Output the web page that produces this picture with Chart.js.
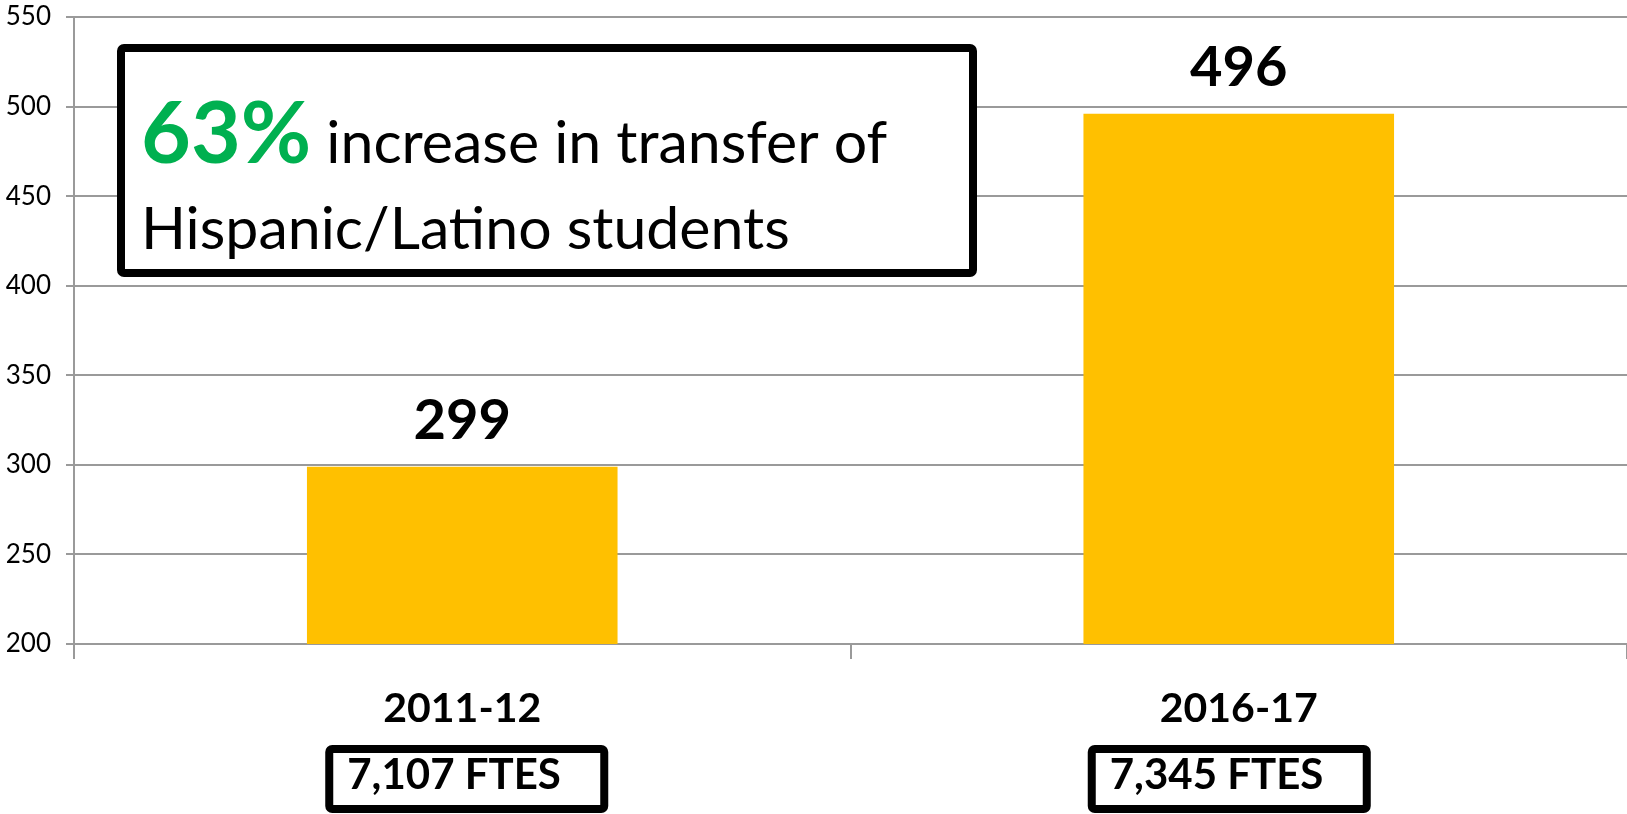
<!DOCTYPE html>
<html>
<head>
<meta charset="utf-8">
<script src="https://cdn.jsdelivr.net/npm/chart.js@4.4.1/dist/chart.umd.min.js"></script>
<style>
html, body { margin: 0; padding: 0; background: #fff; }
</style>
</head>
<body>
<canvas id="grafico-transferencia" width="1627" height="814"></canvas>
<script>
// dados
const anos = ['2011-12', '2016-17'];
const transferencias = [299, 496];
const ftes = ['7,107 FTES', '7,345 FTES'];
const destaque = '63%';
const linhasTexto = ['increase in transfer of', 'Hispanic/Latino students'];
const eixoY = { min: 200, max: 550, passo: 50 };

const fonte = 'Lato, "Open Sans", sans-serif';
const cinza = '#9a9a9a';

// valores acima das barras
const rotulosBarras = {
    id: 'rotulosBarras',
    afterDatasetsDraw(chart) {
        let ctx = chart.ctx;
        let meta = chart.getDatasetMeta(0);
        ctx.save();
        ctx.fillStyle = '#000';
        ctx.font = 'bold 56px ' + fonte;
        ctx.textAlign = 'center';
        ctx.textBaseline = 'alphabetic';
        meta.data.forEach(function (barra, i) {
            ctx.fillText(String(transferencias[i]), barra.x, barra.y - 28);
        });
        ctx.restore();
    }
};

// caixas com FTES debaixo dos anos
const caixasFtes = {
    id: 'caixasFtes',
    afterDraw(chart, args, opts) {
        let ctx = chart.ctx;
        let x = chart.scales.x;
        ctx.save();
        ctx.font = 'bold 42px ' + fonte;
        ftes.forEach(function (txt, i) {
            let cx = x.getPixelForValue(i);
            let esq = cx + opts.desloc[i];
            ctx.lineWidth = 8;
            ctx.strokeStyle = '#000';
            ctx.beginPath();
            ctx.roundRect(esq + 4, 749, 275, 60, 3);
            ctx.stroke();
            ctx.fillStyle = '#000';
            ctx.textAlign = 'left';
            ctx.textBaseline = 'alphabetic';
            ctx.fillText(txt, esq + 22, 789);
        });
        ctx.restore();
    }
};

// caixa de destaque
const caixaDestaque = {
    id: 'caixaDestaque',
    afterDraw(chart) {
        let ctx = chart.ctx;
        ctx.save();
        ctx.fillStyle = '#fff';
        ctx.fillRect(121, 48, 850, 225);
        ctx.lineWidth = 8;
        ctx.strokeStyle = '#000';
        ctx.beginPath();
        ctx.roundRect(121, 48, 852, 225, 3);
        ctx.stroke();

        ctx.textAlign = 'left';
        ctx.textBaseline = 'alphabetic';
        ctx.font = 'bold 86px ' + fonte;
        ctx.fillStyle = '#00B050';
        ctx.fillText(destaque, 141, 163);
        let w = ctx.measureText(destaque).width;

        ctx.font = '59px ' + fonte;
        ctx.fillStyle = '#000';
        let esp = ctx.measureText(' ').width;
        ctx.fillText(linhasTexto[0], 141 + w + esp, 163);
        ctx.fillText(linhasTexto[1], 141, 249);
        ctx.restore();
    }
};

let context = document.getElementById('grafico-transferencia').getContext('2d');

let grafico = new Chart(context, {
    type: 'bar',
    data: {
        labels: anos,
        datasets: [{
            label: 'Transfer',
            data: transferencias,
            backgroundColor: '#FFC000',
            borderWidth: 0,
            barPercentage: 0.4,
            categoryPercentage: 1
        }]
    },
    options: {
        responsive: false,
        animation: false,
        layout: { padding: { top: 17, right: 0, left: 0, bottom: 0 } },
        plugins: {
            legend: { display: false },
            tooltip: { enabled: false },
            caixasFtes: { desloc: [-137, -151] }
        },
        scales: {
            x: {
                grid: {
                    display: true,
                    drawOnChartArea: false,
                    drawTicks: true,
                    tickLength: 15,
                    color: cinza,
                    lineWidth: 2
                },
                border: { color: cinza, width: 2 },
                ticks: {
                    color: '#000',
                    font: { family: fonte, size: 41, weight: 'bold' },
                    padding: 25
                },
                afterFit(scale) {
                    scale.height = 170;
                    scale.paddingLeft = 0;
                    scale.paddingRight = 0;
                }
            },
            y: {
                min: eixoY.min,
                max: eixoY.max,
                ticks: {
                    stepSize: eixoY.passo,
                    color: '#000',
                    font: { family: fonte, size: 26 },
                    padding: 15
                },
                grid: {
                    color: cinza,
                    lineWidth: 2,
                    tickLength: 8
                },
                border: { color: cinza, width: 2 },
                afterFit(scale) {
                    scale.width = 74;
                    scale.paddingTop = 0;
                    scale.paddingBottom = 0;
                }
            }
        }
    },
    plugins: [rotulosBarras, caixasFtes, caixaDestaque]
});
</script>
</body>
</html>
